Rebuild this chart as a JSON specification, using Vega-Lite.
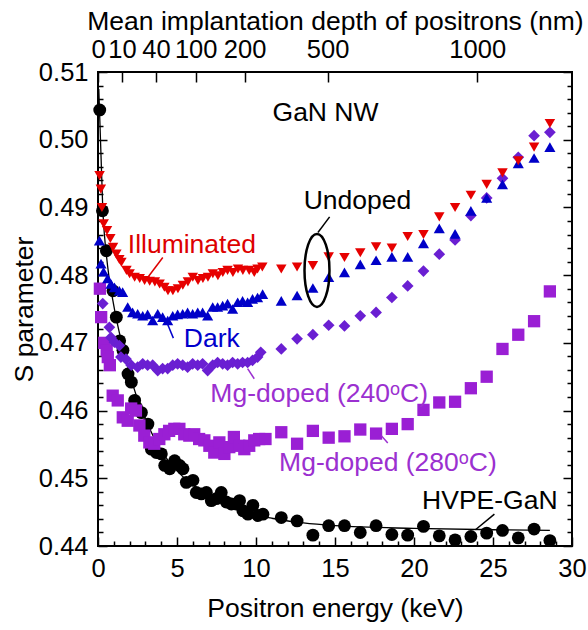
{
  "$schema": "https://vega.github.io/schema/vega-lite/v6.json",
  "width": 474,
  "height": 474,
  "autosize": {"type": "none"},
  "padding": {"left": 98, "top": 72, "right": 16, "bottom": 84},
  "background": "white",
  "config": {
    "view": {"stroke": "black", "strokeWidth": 2},
    "font": "Liberation Sans",
    "axis": {
      "grid": false, "domain": false,
      "labelFont": "Liberation Sans", "labelFontSize": 25.5, "labelColor": "black",
      "titleFont": "Liberation Sans", "titleFontSize": 26.5, "titleFontWeight": "normal", "titleColor": "black",
      "tickColor": "black", "tickWidth": 1.5, "labelFlush": false, "labelOverlap": false
    }
  },
  "datasets": {
    "pts": [
      {"s":"HVPE","E":0.11,"S":0.5044},{"s":"HVPE","E":0.28,"S":0.4895},{"s":"HVPE","E":0.53,"S":0.4836},{"s":"HVPE","E":0.95,"S":0.4777},{"s":"HVPE","E":1.16,"S":0.4738},{"s":"HVPE","E":1.37,"S":0.4703},{"s":"HVPE","E":1.58,"S":0.4689},{"s":"HVPE","E":1.9,"S":0.4654},{"s":"HVPE","E":2.11,"S":0.4642},{"s":"HVPE","E":2.32,"S":0.4615},{"s":"HVPE","E":2.43,"S":0.4605},{"s":"HVPE","E":2.75,"S":0.4597},{"s":"HVPE","E":3.16,"S":0.458},{"s":"HVPE","E":3.38,"S":0.4543},{"s":"HVPE","E":3.69,"S":0.4538},{"s":"HVPE","E":4.01,"S":0.4536},{"s":"HVPE","E":4.22,"S":0.4519},{"s":"HVPE","E":4.54,"S":0.4514},{"s":"HVPE","E":4.85,"S":0.4526},{"s":"HVPE","E":5.17,"S":0.4519},{"s":"HVPE","E":5.38,"S":0.4514},{"s":"HVPE","E":5.59,"S":0.4494},{"s":"HVPE","E":6.01,"S":0.4497},{"s":"HVPE","E":6.22,"S":0.4479},{"s":"HVPE","E":6.54,"S":0.4477},{"s":"HVPE","E":6.86,"S":0.4479},{"s":"HVPE","E":7.17,"S":0.4467},{"s":"HVPE","E":7.49,"S":0.447},{"s":"HVPE","E":7.8,"S":0.4479},{"s":"HVPE","E":8.12,"S":0.4465},{"s":"HVPE","E":8.44,"S":0.4462},{"s":"HVPE","E":8.75,"S":0.4462},{"s":"HVPE","E":8.96,"S":0.4467},{"s":"HVPE","E":9.17,"S":0.4452},{"s":"HVPE","E":9.49,"S":0.4447},{"s":"HVPE","E":9.8,"S":0.446},{"s":"HVPE","E":10.12,"S":0.4445},{"s":"HVPE","E":10.44,"S":0.4447},
      {"s":"HVPE","E":11.6,"S":0.4442},{"s":"HVPE","E":12.6,"S":0.4437},{"s":"HVPE","E":13.6,"S":0.4416},{"s":"HVPE","E":14.6,"S":0.443},{"s":"HVPE","E":15.6,"S":0.443},{"s":"HVPE","E":16.6,"S":0.442},{"s":"HVPE","E":17.6,"S":0.443},{"s":"HVPE","E":18.6,"S":0.4417},{"s":"HVPE","E":19.6,"S":0.4416},{"s":"HVPE","E":20.6,"S":0.4429},{"s":"HVPE","E":21.6,"S":0.4415},{"s":"HVPE","E":22.6,"S":0.4409},{"s":"HVPE","E":23.6,"S":0.4414},{"s":"HVPE","E":24.6,"S":0.4419},{"s":"HVPE","E":25.6,"S":0.4423},{"s":"HVPE","E":26.6,"S":0.4412},{"s":"HVPE","E":27.6,"S":0.4425},{"s":"HVPE","E":28.6,"S":0.4408},
      {"s":"Mg280","E":0.12,"S":0.478},{"s":"Mg280","E":0.2,"S":0.4738},{"s":"Mg280","E":0.4,"S":0.47},{"s":"Mg280","E":0.55,"S":0.4689},{"s":"Mg280","E":0.62,"S":0.4679},{"s":"Mg280","E":0.75,"S":0.4667},{"s":"Mg280","E":0.93,"S":0.4622},{"s":"Mg280","E":1.25,"S":0.4615},{"s":"Mg280","E":1.57,"S":0.459},{"s":"Mg280","E":1.88,"S":0.4585},{"s":"Mg280","E":2.1,"S":0.4603},{"s":"Mg280","E":2.4,"S":0.46},{"s":"Mg280","E":2.62,"S":0.4578},{"s":"Mg280","E":2.93,"S":0.4563},{"s":"Mg280","E":3.25,"S":0.4553},{"s":"Mg280","E":3.56,"S":0.4551},{"s":"Mg280","E":3.88,"S":0.4558},{"s":"Mg280","E":4.2,"S":0.4565},{"s":"Mg280","E":4.5,"S":0.457},{"s":"Mg280","E":4.83,"S":0.4573},{"s":"Mg280","E":5.15,"S":0.4573},{"s":"Mg280","E":5.46,"S":0.4565},{"s":"Mg280","E":5.78,"S":0.4563},{"s":"Mg280","E":6.09,"S":0.4565},{"s":"Mg280","E":6.4,"S":0.4558},{"s":"Mg280","E":6.73,"S":0.4556},{"s":"Mg280","E":7.05,"S":0.4548},{"s":"Mg280","E":7.36,"S":0.4538},{"s":"Mg280","E":7.68,"S":0.4553},{"s":"Mg280","E":8.0,"S":0.4536},{"s":"Mg280","E":8.31,"S":0.4546},{"s":"Mg280","E":8.6,"S":0.4561},{"s":"Mg280","E":8.94,"S":0.4548},{"s":"Mg280","E":9.26,"S":0.4543},{"s":"Mg280","E":9.57,"S":0.4548},{"s":"Mg280","E":9.89,"S":0.4556},{"s":"Mg280","E":10.2,"S":0.4558},{"s":"Mg280","E":10.6,"S":0.4558},
      {"s":"Mg280","E":11.6,"S":0.4568},{"s":"Mg280","E":12.6,"S":0.4551},{"s":"Mg280","E":13.6,"S":0.457},{"s":"Mg280","E":14.6,"S":0.456},{"s":"Mg280","E":15.6,"S":0.4562},{"s":"Mg280","E":16.6,"S":0.4572},{"s":"Mg280","E":17.6,"S":0.4566},{"s":"Mg280","E":18.6,"S":0.4573},{"s":"Mg280","E":19.6,"S":0.458},{"s":"Mg280","E":20.6,"S":0.4601},{"s":"Mg280","E":21.6,"S":0.4612},{"s":"Mg280","E":22.6,"S":0.4613},{"s":"Mg280","E":23.6,"S":0.4633},{"s":"Mg280","E":24.6,"S":0.465},{"s":"Mg280","E":25.6,"S":0.4691},{"s":"Mg280","E":26.6,"S":0.4712},{"s":"Mg280","E":27.6,"S":0.4732},{"s":"Mg280","E":28.6,"S":0.4776},
      {"s":"Mg240","E":0.3,"S":0.4758},{"s":"Mg240","E":0.72,"S":0.4723},{"s":"Mg240","E":0.82,"S":0.4708},{"s":"Mg240","E":1.04,"S":0.4701},{"s":"Mg240","E":1.35,"S":0.4696},{"s":"Mg240","E":1.45,"S":0.4679},{"s":"Mg240","E":1.77,"S":0.4676},{"s":"Mg240","E":2.1,"S":0.4667},{"s":"Mg240","E":2.51,"S":0.4664},{"s":"Mg240","E":2.83,"S":0.4669},{"s":"Mg240","E":3.14,"S":0.4667},{"s":"Mg240","E":3.46,"S":0.4667},{"s":"Mg240","E":3.78,"S":0.4659},{"s":"Mg240","E":4.09,"S":0.4662},{"s":"Mg240","E":4.41,"S":0.4662},{"s":"Mg240","E":4.73,"S":0.4667},{"s":"Mg240","E":5.04,"S":0.4669},{"s":"Mg240","E":5.36,"S":0.4667},{"s":"Mg240","E":5.67,"S":0.4664},{"s":"Mg240","E":5.99,"S":0.4669},{"s":"Mg240","E":6.31,"S":0.4667},{"s":"Mg240","E":6.62,"S":0.4669},{"s":"Mg240","E":6.94,"S":0.4659},{"s":"Mg240","E":7.26,"S":0.4667},{"s":"Mg240","E":7.57,"S":0.4671},{"s":"Mg240","E":7.89,"S":0.4669},{"s":"Mg240","E":8.2,"S":0.4667},{"s":"Mg240","E":8.52,"S":0.4671},{"s":"Mg240","E":8.84,"S":0.4669},{"s":"Mg240","E":9.15,"S":0.4671},{"s":"Mg240","E":9.47,"S":0.4671},{"s":"Mg240","E":9.78,"S":0.4674},{"s":"Mg240","E":10.1,"S":0.4679},{"s":"Mg240","E":10.3,"S":0.4686},
      {"s":"Mg240","E":11.6,"S":0.4691},{"s":"Mg240","E":12.6,"S":0.4706},{"s":"Mg240","E":13.6,"S":0.4712},{"s":"Mg240","E":14.6,"S":0.4726},{"s":"Mg240","E":15.6,"S":0.4725},{"s":"Mg240","E":16.6,"S":0.474},{"s":"Mg240","E":17.6,"S":0.4745},{"s":"Mg240","E":18.6,"S":0.4767},{"s":"Mg240","E":19.6,"S":0.4784},{"s":"Mg240","E":20.6,"S":0.4806},{"s":"Mg240","E":21.6,"S":0.4831},{"s":"Mg240","E":22.6,"S":0.4852},{"s":"Mg240","E":23.6,"S":0.4888},{"s":"Mg240","E":24.6,"S":0.4914},{"s":"Mg240","E":25.6,"S":0.4943},{"s":"Mg240","E":26.6,"S":0.4974},{"s":"Mg240","E":27.6,"S":0.5006},{"s":"Mg240","E":28.6,"S":0.5011},
      {"s":"Dark","E":0.09,"S":0.4851},{"s":"Dark","E":0.19,"S":0.4817},{"s":"Dark","E":0.35,"S":0.4805},{"s":"Dark","E":0.61,"S":0.4795},{"s":"Dark","E":0.82,"S":0.4787},{"s":"Dark","E":1.04,"S":0.4782},{"s":"Dark","E":1.35,"S":0.4777},{"s":"Dark","E":1.56,"S":0.4775},{"s":"Dark","E":1.88,"S":0.4753},{"s":"Dark","E":2.19,"S":0.4745},{"s":"Dark","E":2.51,"S":0.4743},{"s":"Dark","E":2.83,"S":0.474},{"s":"Dark","E":3.14,"S":0.4742},{"s":"Dark","E":3.46,"S":0.4733},{"s":"Dark","E":3.78,"S":0.4743},{"s":"Dark","E":4.09,"S":0.4738},{"s":"Dark","E":4.41,"S":0.4733},{"s":"Dark","E":4.73,"S":0.474},{"s":"Dark","E":5.04,"S":0.4742},{"s":"Dark","E":5.36,"S":0.4743},{"s":"Dark","E":5.67,"S":0.4745},{"s":"Dark","E":5.99,"S":0.4743},{"s":"Dark","E":6.31,"S":0.4745},{"s":"Dark","E":6.62,"S":0.4745},{"s":"Dark","E":6.94,"S":0.474},{"s":"Dark","E":7.26,"S":0.4753},{"s":"Dark","E":7.57,"S":0.4753},{"s":"Dark","E":7.89,"S":0.4755},{"s":"Dark","E":8.2,"S":0.4758},{"s":"Dark","E":8.52,"S":0.475},{"s":"Dark","E":8.84,"S":0.476},{"s":"Dark","E":9.15,"S":0.4762},{"s":"Dark","E":9.47,"S":0.476},{"s":"Dark","E":9.78,"S":0.4765},{"s":"Dark","E":10.1,"S":0.4767},{"s":"Dark","E":10.42,"S":0.4772},
      {"s":"Dark","E":11.6,"S":0.4762},{"s":"Dark","E":12.6,"S":0.477},{"s":"Dark","E":13.6,"S":0.4781},{"s":"Dark","E":14.6,"S":0.4797},{"s":"Dark","E":15.6,"S":0.4804},{"s":"Dark","E":16.6,"S":0.4816},{"s":"Dark","E":17.6,"S":0.4822},{"s":"Dark","E":18.6,"S":0.4827},{"s":"Dark","E":19.6,"S":0.4827},{"s":"Dark","E":20.6,"S":0.4847},{"s":"Dark","E":21.6,"S":0.4869},{"s":"Dark","E":22.6,"S":0.4861},{"s":"Dark","E":23.6,"S":0.4895},{"s":"Dark","E":24.6,"S":0.4914},{"s":"Dark","E":25.6,"S":0.4934},{"s":"Dark","E":26.6,"S":0.4965},{"s":"Dark","E":27.6,"S":0.4973},{"s":"Dark","E":28.6,"S":0.4989},
      {"s":"Illuminated","E":0.1,"S":0.4947},{"s":"Illuminated","E":0.18,"S":0.4927},{"s":"Illuminated","E":0.25,"S":0.49},{"s":"Illuminated","E":0.36,"S":0.4876},{"s":"Illuminated","E":0.57,"S":0.4866},{"s":"Illuminated","E":0.78,"S":0.4854},{"s":"Illuminated","E":0.95,"S":0.4841},{"s":"Illuminated","E":1.16,"S":0.4831},{"s":"Illuminated","E":1.35,"S":0.4823},{"s":"Illuminated","E":1.48,"S":0.4819},{"s":"Illuminated","E":1.8,"S":0.4807},{"s":"Illuminated","E":2.0,"S":0.4802},{"s":"Illuminated","E":2.32,"S":0.4797},{"s":"Illuminated","E":2.64,"S":0.4795},{"s":"Illuminated","E":2.95,"S":0.4792},{"s":"Illuminated","E":3.27,"S":0.4791},{"s":"Illuminated","E":3.6,"S":0.479},{"s":"Illuminated","E":3.9,"S":0.4787},{"s":"Illuminated","E":4.2,"S":0.4782},{"s":"Illuminated","E":4.43,"S":0.4777},{"s":"Illuminated","E":4.74,"S":0.4777},{"s":"Illuminated","E":5.06,"S":0.478},{"s":"Illuminated","E":5.37,"S":0.4785},{"s":"Illuminated","E":5.69,"S":0.479},{"s":"Illuminated","E":6.0,"S":0.4797},{"s":"Illuminated","E":6.33,"S":0.4792},{"s":"Illuminated","E":6.64,"S":0.4795},{"s":"Illuminated","E":6.96,"S":0.4797},{"s":"Illuminated","E":7.27,"S":0.4802},{"s":"Illuminated","E":7.59,"S":0.4799},{"s":"Illuminated","E":7.9,"S":0.4804},{"s":"Illuminated","E":8.2,"S":0.4807},{"s":"Illuminated","E":8.54,"S":0.4804},{"s":"Illuminated","E":8.86,"S":0.4809},{"s":"Illuminated","E":9.17,"S":0.4807},{"s":"Illuminated","E":9.57,"S":0.4807},{"s":"Illuminated","E":9.89,"S":0.4804},{"s":"Illuminated","E":10.1,"S":0.4809},{"s":"Illuminated","E":10.4,"S":0.4812},
      {"s":"Illuminated","E":11.6,"S":0.4809},{"s":"Illuminated","E":12.6,"S":0.4812},{"s":"Illuminated","E":13.6,"S":0.4814},{"s":"Illuminated","E":14.6,"S":0.4827},{"s":"Illuminated","E":15.6,"S":0.4826},{"s":"Illuminated","E":16.6,"S":0.4833},{"s":"Illuminated","E":17.6,"S":0.4842},{"s":"Illuminated","E":18.6,"S":0.484},{"s":"Illuminated","E":19.6,"S":0.4857},{"s":"Illuminated","E":20.6,"S":0.486},{"s":"Illuminated","E":21.6,"S":0.4886},{"s":"Illuminated","E":22.6,"S":0.49},{"s":"Illuminated","E":23.6,"S":0.4918},{"s":"Illuminated","E":24.6,"S":0.4934},{"s":"Illuminated","E":25.6,"S":0.4951},{"s":"Illuminated","E":26.6,"S":0.4969},{"s":"Illuminated","E":27.6,"S":0.4989},{"s":"Illuminated","E":28.6,"S":0.5024}
    ],
    "fit": [
      {"E":0.05,"S":0.5075},{"E":0.3,"S":0.49},{"E":0.6,"S":0.4815},{"E":1.0,"S":0.4755},{"E":1.5,"S":0.4700},{"E":2.0,"S":0.4655},{"E":2.5,"S":0.4617},{"E":3.0,"S":0.4587},{"E":3.5,"S":0.4562},{"E":4.0,"S":0.4541},{"E":5.0,"S":0.4511},{"E":6.0,"S":0.4490},{"E":7.0,"S":0.4475},{"E":8.0,"S":0.4463},{"E":9.0,"S":0.4453},{"E":10.0,"S":0.4446},{"E":11.0,"S":0.4441},{"E":13.0,"S":0.4434},{"E":15.0,"S":0.4430},{"E":20.0,"S":0.4426},{"E":25.0,"S":0.4424},{"E":28.6,"S":0.4423}
    ],
    "labels": [
      {"t":"GaN NW","k":"black","E":14.4,"S":0.504},
      {"t":"Undoped","k":"black","E":16.42,"S":0.491},
      {"t":"Illuminated","k":"red","E":5.94,"S":0.4844},
      {"t":"Dark","k":"blue","E":7.2,"S":0.4706},
      {"t":"Mg-doped (240ᵒC)","k":"purple","E":14.0,"S":0.4625},
      {"t":"Mg-doped (280ᵒC)","k":"purple","E":18.35,"S":0.4522},
      {"t":"HVPE-GaN","k":"black","E":24.8,"S":0.4467}
    ],
    "leaders": [
      {"k":"red","E":4.1,"S":0.4826,"E2":3.1,"S2":0.4795},
      {"k":"blue","E":4.36,"S":0.473,"E2":4.77,"S2":0.4707},
      {"k":"purple","E":9.47,"S":0.4662,"E2":9.89,"S2":0.4647},
      {"k":"purple","E":17.93,"S":0.4563,"E2":18.34,"S2":0.4552},
      {"k":"black","E":23.89,"S":0.4424,"E2":25.09,"S2":0.4447},
      {"k":"black","E":13.92,"S":0.4863,"E2":14.66,"S2":0.4886}
    ],
    "ellipse": [{"E":13.86,"S":0.4807}]
  },
  "layer": [
    {
      "data": {"name": "fit"},
      "mark": {"type": "line", "color": "black", "strokeWidth": 1.3, "interpolate": "monotone"},
      "encoding": {
        "x": {"field": "E", "type": "quantitative", "scale": {"domain": [0, 30], "nice": false, "zero": false},
              "axis": {"orient": "bottom", "values": [1,2,3,4,6,7,8,9,11,12,13,14,16,17,18,19,21,22,23,24,26,27,28,29], "tickSize": -5, "labels": false, "title": null}},
        "y": {"field": "S", "type": "quantitative", "scale": {"domain": [0.44, 0.51], "nice": false, "zero": false},
              "axis": {"orient": "left", "values": [0.442,0.444,0.446,0.448,0.452,0.454,0.456,0.458,0.462,0.464,0.466,0.468,0.472,0.474,0.476,0.478,0.482,0.484,0.486,0.488,0.492,0.494,0.496,0.498,0.502,0.504,0.506,0.508], "tickSize": -5, "labels": false, "title": null}}
      }
    },
    {
      "data": {"name": "pts"},
      "mark": {"type": "point", "filled": true, "opacity": 1},
      "encoding": {
        "x": {"field": "E", "type": "quantitative",
              "axis": {"orient": "bottom", "values": [0,5,10,15,20,25,30], "tickSize": -9, "labelPadding": 19, "title": "Positron energy (keV)", "titlePadding": 14}},
        "y": {"field": "S", "type": "quantitative",
              "axis": {"orient": "left", "values": [0.44,0.45,0.46,0.47,0.48,0.49,0.5,0.51], "format": ".2f", "tickSize": -9, "labelPadding": 19, "title": "S parameter", "titlePadding": 0}},
        "shape": {"field": "s", "type": "nominal", "legend": null,
                  "scale": {"domain": ["HVPE","Mg280","Mg240","Dark","Illuminated"], "range": ["circle","square","diamond","triangle-up","triangle-down"]}},
        "color": {"field": "s", "type": "nominal", "legend": null,
                  "scale": {"domain": ["HVPE","Mg280","Mg240","Dark","Illuminated"], "range": ["#000000","#9a1fd4","#6a1fd2","#0000c8","#e60000"]}},
        "size": {"field": "s", "type": "nominal", "legend": null,
                 "scale": {"domain": ["HVPE","Mg280","Mg240","Dark","Illuminated"], "range": [165, 110, 175, 160, 165]}}
      }
    },
    {
      "data": {"name": "labels"},
      "mark": {"type": "text", "font": "Liberation Sans", "fontSize": 26.5, "align": "center", "baseline": "middle"},
      "encoding": {
        "x": {"field": "E", "type": "quantitative",
              "axis": {"orient": "top", "values": [0, 1.52, 3.67, 6.18, 9.28, 14.53, 24.0], "tickSize": -10, "labelPadding": 20,
                       "labelExpr": "datum.value < 0.5 ? '0' : datum.value < 2 ? '10' : datum.value < 5 ? '40' : datum.value < 7 ? '100' : datum.value < 10 ? '200' : datum.value < 20 ? '500' : '1000'",
                       "title": "Mean implantation depth of positrons (nm)", "titlePadding": 2}},
        "y": {"field": "S", "type": "quantitative",
              "axis": {"orient": "right", "values": [0.442,0.444,0.446,0.448,0.452,0.454,0.456,0.458,0.462,0.464,0.466,0.468,0.472,0.474,0.476,0.478,0.482,0.484,0.486,0.488,0.492,0.494,0.496,0.498,0.502,0.504,0.506,0.508], "tickSize": -5, "labels": false, "title": null}},
        "text": {"field": "t"},
        "color": {"field": "k", "type": "nominal", "legend": null,
                  "scale": {"domain": ["black","red","blue","purple"], "range": ["#000000","#dd0000","#0000cc","#9b30d0"]}}
      }
    },
    {
      "data": {"name": "leaders"},
      "mark": {"type": "rule", "strokeWidth": 1.5},
      "encoding": {
        "x": {"field": "E", "type": "quantitative", "axis": null},
        "x2": {"field": "E2"},
        "y": {"field": "S", "type": "quantitative",
              "axis": {"orient": "right", "values": [0.44,0.45,0.46,0.47,0.48,0.49,0.5,0.51], "tickSize": -9, "labels": false, "title": null}},
        "y2": {"field": "S2"},
        "color": {"field": "k", "type": "nominal", "legend": null,
                  "scale": {"domain": ["black","red","blue","purple"], "range": ["#000000","#dd0000","#0000cc","#9b30d0"]}}
      }
    },
    {
      "data": {"name": "ellipse"},
      "mark": {"type": "point", "shape": "M0,-1A0.342,1,0,1,1,0,1A0.342,1,0,1,1,0,-1Z", "size": 5329, "filled": false, "stroke": "black", "strokeWidth": 2.5, "opacity": 1},
      "encoding": {
        "x": {"field": "E", "type": "quantitative", "axis": null},
        "y": {"field": "S", "type": "quantitative", "axis": null}
      }
    }
  ],
  "resolve": {"axis": {"x": "independent", "y": "independent"}, "scale": {"color": "independent", "shape": "independent", "size": "independent"}}
}
